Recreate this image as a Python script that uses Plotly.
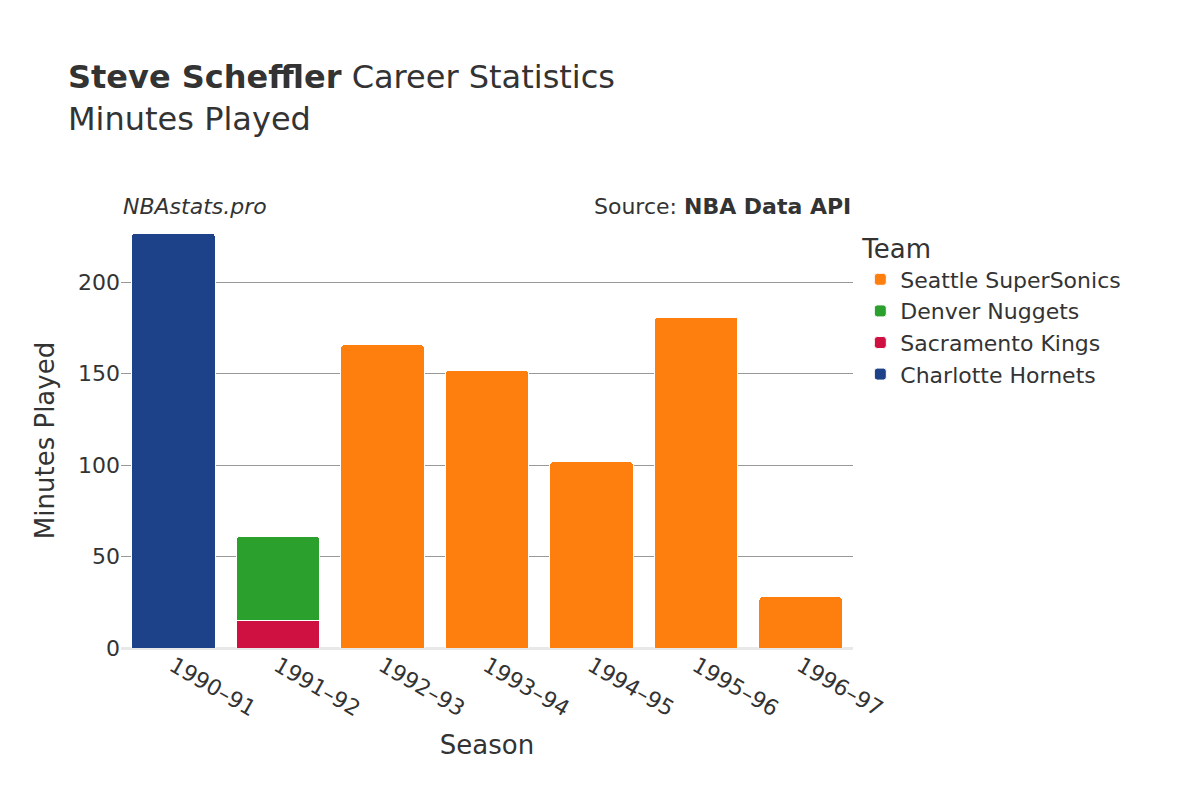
import plotly.graph_objects as go

seasons = ['1990–91', '1991–92', '1992–93', '1993–94', '1994–95', '1995–96', '1996–97']
teams = ['Charlotte Hornets', 'Sacramento Kings', 'Denver Nuggets', 'Seattle SuperSonics']
colors = ['#1d428a', '#ce1141', '#2ca02c', '#ff7f0e']
minutes = {
    'Charlotte Hornets': [227, None, None, None, None, None, None],
    'Sacramento Kings': [None, 15, None, None, None, None, None],
    'Denver Nuggets': [None, 46, None, None, None, None, None],
    'Seattle SuperSonics': [None, None, 166, 152, 102, 181, 28],
}

fig = go.Figure()
for team, color in zip(teams, colors):
    fig.add_trace(go.Bar(x=seasons, y=minutes[team], name=team, marker_color=color,
                         marker_line_color='white', marker_line_width=1))

fig.update_layout(
    barmode='stack', barcornerradius=4, bargap=0.2,
    width=1200, height=800,
    font=dict(family='DejaVu Sans', size=22, color='#333'),
    plot_bgcolor='white', paper_bgcolor='white',
    title=dict(text='<b>Steve Scheffler</b> Career Statistics<br>Minutes Played',
               x=0.05, y=0.9, font=dict(size=32)),
    margin=dict(l=113, r=355, t=225, b=160),
    legend=dict(title=dict(text='Team', font=dict(size=26)), font=dict(size=22),
                x=1.01, y=1.02, yanchor='top'),
    xaxis=dict(title=dict(text='Season', font=dict(size=26)), tickangle=30),
    yaxis=dict(title=dict(text='Minutes Played', font=dict(size=26)), range=[0, 227],
               gridcolor='#999', zeroline=True, zerolinecolor='#e8e8e8', zerolinewidth=3,
               tickvals=[0, 50, 100, 150, 200]),
    annotations=[
        dict(text='<i>NBAstats.pro</i>', xref='paper', yref='paper', x=0, y=1.03,
             xanchor='left', yanchor='bottom', showarrow=False, font=dict(size=22)),
        dict(text='Source: <b>NBA Data API</b>', xref='paper', yref='paper', x=1, y=1.03,
             xanchor='right', yanchor='bottom', showarrow=False, font=dict(size=22)),
    ],
)
fig.write_html('out.html')
